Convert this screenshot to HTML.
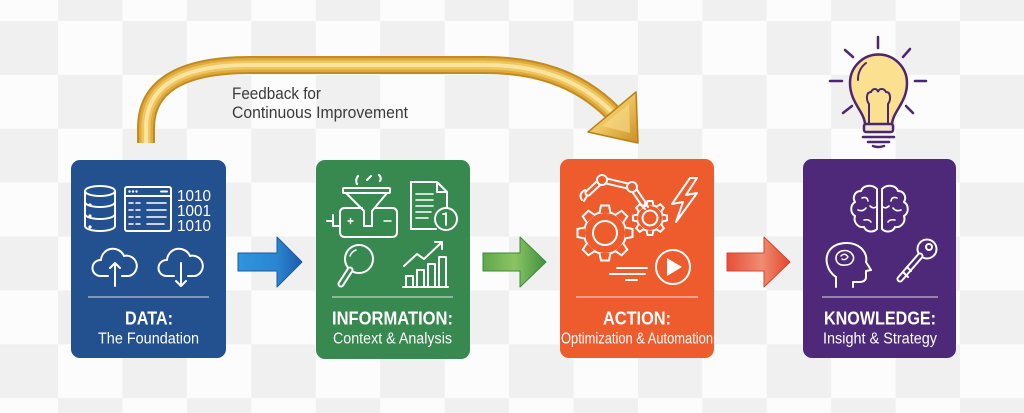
<!DOCTYPE html>
<html><head><meta charset="utf-8">
<style>
html,body{margin:0;padding:0;width:1024px;height:413px;overflow:hidden;background:#fdfdfd;}
svg{display:block;font-family:"Liberation Sans",sans-serif;}
</style></head><body>
<svg width="1024" height="413" viewBox="0 0 1024 413" xmlns="http://www.w3.org/2000/svg">
<defs>
<pattern id="chk" x="-6.4" y="-33" width="128.86" height="107.8" patternUnits="userSpaceOnUse">
<rect width="128.86" height="107.8" fill="#fcfcfc"/>
<rect x="64.43" y="0" width="64.43" height="53.9" fill="#f0f0f0"/>
<rect x="0" y="53.9" width="64.43" height="53.9" fill="#f0f0f0"/>
</pattern>
<path id="fb" d="M146 143 V128 C146 88 178 65 250 65 H485 C535 65 578 78 612 112"/>
<linearGradient id="gh" x1="0" y1="0" x2="1" y2="1">
<stop offset="0" stop-color="#fbe7a4"/><stop offset="0.5" stop-color="#edc35b"/><stop offset="1" stop-color="#c98f24"/>
</linearGradient>
<linearGradient id="ab" x1="0" y1="0" x2="1" y2="0">
<stop offset="0" stop-color="#2f95dc"/><stop offset="0.6" stop-color="#2a86d0"/><stop offset="1" stop-color="#1b5cad"/>
</linearGradient>
<linearGradient id="ag" x1="0" y1="0" x2="1" y2="0">
<stop offset="0" stop-color="#5fa84a"/><stop offset="0.5" stop-color="#8cc462"/><stop offset="1" stop-color="#3f9140"/>
</linearGradient>
<linearGradient id="ar" x1="0" y1="0" x2="1" y2="0">
<stop offset="0" stop-color="#e5503a"/><stop offset="0.55" stop-color="#f08c72"/><stop offset="1" stop-color="#e2472e"/>
</linearGradient>
<path id="tooth" d="M-5.5 -20 L-4 -27.5 L4 -27.5 L5.5 -20" fill="#ee5b2c"/>
<g id="gear">
<circle r="21" fill="none"/>
<use href="#tooth"/>
<use href="#tooth" transform="rotate(45)"/>
<use href="#tooth" transform="rotate(90)"/>
<use href="#tooth" transform="rotate(135)"/>
<use href="#tooth" transform="rotate(180)"/>
<use href="#tooth" transform="rotate(225)"/>
<use href="#tooth" transform="rotate(270)"/>
<use href="#tooth" transform="rotate(315)"/>
<circle r="12" fill="none"/>
</g>
</defs>
<rect width="1024" height="413" fill="url(#chk)"/>

<!-- feedback arrow -->
<g fill="none" stroke-linecap="butt">
<use href="#fb" stroke="#c28a1f" stroke-width="18"/>
<use href="#fb" stroke="#dfa93c" stroke-width="14"/>
<use href="#fb" stroke="#efc65f" stroke-width="9"/>
<use href="#fb" stroke="#fbe3a0" stroke-width="4"/>
</g>
<polygon points="636,92 588,132 638,143" fill="url(#gh)" stroke="#b8801c" stroke-width="1.5" stroke-linejoin="round"/>
<polygon points="629,104 602,126 630,133" fill="#f7dc90" opacity="0.6"/>
<g fill="#3a3a3a" font-size="16.5">
<text x="232" y="99" textLength="89" lengthAdjust="spacingAndGlyphs">Feedback for</text>
<text x="232" y="118" textLength="176" lengthAdjust="spacingAndGlyphs">Continuous Improvement</text>
</g>

<!-- boxes -->
<rect x="71" y="160" width="155" height="198" rx="9" fill="#23518f"/>
<rect x="316" y="160" width="154" height="199" rx="9" fill="#37894f"/>
<rect x="560" y="159" width="154" height="199" rx="9" fill="#ee5b2c"/>
<rect x="803" y="159" width="153" height="199" rx="9" fill="#4f2979"/>

<!-- separators -->
<g stroke="#ffffff" stroke-opacity="0.55" stroke-width="1.5">
<line x1="88" y1="297" x2="209" y2="297"/>
<line x1="332" y1="297" x2="453" y2="297"/>
<line x1="576" y1="297" x2="698" y2="297"/>
<line x1="822" y1="297" x2="938" y2="297"/>
</g>

<!-- labels -->
<g fill="#fff" text-anchor="middle">
<text x="149" y="324.5" font-size="18" font-weight="bold" textLength="48" lengthAdjust="spacingAndGlyphs">DATA:</text>
<text x="148.5" y="343.5" font-size="15.5" textLength="101" lengthAdjust="spacingAndGlyphs">The Foundation</text>
<text x="392.5" y="324.5" font-size="18" font-weight="bold" textLength="121" lengthAdjust="spacingAndGlyphs">INFORMATION:</text>
<text x="392.5" y="343.5" font-size="15.5" textLength="119" lengthAdjust="spacingAndGlyphs">Context &amp; Analysis</text>
<text x="637" y="324.5" font-size="18" font-weight="bold" textLength="68" lengthAdjust="spacingAndGlyphs">ACTION:</text>
<text x="637" y="343.5" font-size="15.5" textLength="152" lengthAdjust="spacingAndGlyphs">Optimization &amp; Automation</text>
<text x="880" y="324.5" font-size="18" font-weight="bold" textLength="112" lengthAdjust="spacingAndGlyphs">KNOWLEDGE:</text>
<text x="880" y="343.5" font-size="15.5" textLength="114" lengthAdjust="spacingAndGlyphs">Insight &amp; Strategy</text>
</g>

<!-- connector arrows -->
<polygon points="238,253 277,253 277,237 302,262 277,287 277,271 238,271" fill="url(#ab)" stroke="#1a5aa3" stroke-width="1" stroke-linejoin="round"/>
<polygon points="483,253 520,253 520,237 546,262 520,287 520,271 483,271" fill="url(#ag)" stroke="#3b8a3c" stroke-width="1" stroke-linejoin="round"/>
<polygon points="727,253 764,253 764,237 790,262 764,287 764,271 727,271" fill="url(#ar)" stroke="#d9432c" stroke-width="1" stroke-linejoin="round"/>

<!-- DATA icons -->
<g stroke="#fff" stroke-width="2" fill="none" stroke-linecap="round" stroke-linejoin="round">
<ellipse cx="100" cy="191" rx="15" ry="5"/>
<path d="M85 191 V226 A15 5 0 0 0 115 226 V191"/>
<path d="M85 202 A15 5 0 0 0 115 202"/>
<path d="M85 214 A15 5 0 0 0 115 214"/>
<rect x="125" y="187" width="46" height="44" rx="2"/>
<line x1="125" y1="196" x2="171" y2="196"/>
<line x1="161" y1="191.5" x2="167" y2="191.5"/>
<path d="M147 203 H166 M147 210 H166 M147 217 H166 M147 224 H164" stroke-width="1.6"/>
<path d="M129 203 H133 M136 203 H140 M129 210 H133 M136 210 H140 M129 217 H133 M136 217 H140 M129 224 H133 M136 224 H140" stroke-width="1.5"/>
<path d="M108 276 H100 A8 8 0 0 1 101 260 A12 12 0 0 1 124 256 A9 9 0 0 1 129 276 H122"/>
<path d="M115 286 V263 M110 268 L115 263 L120 268"/>
<path d="M174 276 H166 A8 8 0 0 1 167 260 A12 12 0 0 1 190 256 A9 9 0 0 1 195 276 H188"/>
<path d="M181 263 V286 M176 281 L181 286 L186 281"/>
</g>
<g fill="#fff">
<circle cx="90" cy="205" r="1.6"/><circle cx="90" cy="216" r="1.6"/><circle cx="90" cy="227" r="1.6"/>
<circle cx="129.5" cy="191.5" r="1.2"/><circle cx="133" cy="191.5" r="1.2"/><circle cx="136.5" cy="191.5" r="1.2"/>
<g font-size="16">
<text x="177" y="201" textLength="34" lengthAdjust="spacingAndGlyphs">1010</text>
<text x="177" y="216" textLength="34" lengthAdjust="spacingAndGlyphs">1001</text>
<text x="177" y="231" textLength="34" lengthAdjust="spacingAndGlyphs">1010</text>
</g>
</g>

<!-- INFO icons -->
<g stroke="#fff" stroke-width="2" fill="none" stroke-linecap="round" stroke-linejoin="round">
<rect x="343" y="188" width="47" height="5" rx="1"/>
<path d="M346 193 L364 211 V226 H372 V211 L387 193"/>
<path d="M362 208 H345 Q340 208 340 213 V232 Q340 237 345 237 H392 Q397 237 397 232 V213 Q397 208 392 208 H375"/>
<path d="M327 221 H333 M333 215 V226 H340"/>
<path d="M384 221 H391" stroke-width="1.5"/>
<path d="M348 221 L353 221 M350.5 218.5 V223.5" stroke-width="1.4"/>
<path d="M357 184 Q355 180 358 176 M367 180 L371 176 M380 181 Q382 178 379 175"/>
<path d="M436 229 H411 V182 H437 L447 192 V207 M437 182 V192 H447"/>
<path d="M416 194 H433 M416 200 H433 M416 206 H433 M416 212 H431 M416 218 H428" stroke-width="1.6"/>
<circle cx="446" cy="219" r="11" fill="#37894f"/>
<path d="M446 213 V225 M443 214 H446" stroke-width="1.8"/>
<circle cx="359" cy="259" r="14"/>
<path d="M350 256 A10 10 0 0 1 356 250" stroke-width="1.5"/>
</g>
<line x1="350" y1="270" x2="341" y2="284" stroke="#fff" stroke-width="7" stroke-linecap="round"/>
<line x1="350" y1="270" x2="341" y2="284" stroke="#37894f" stroke-width="3" stroke-linecap="round"/>
<g stroke="#fff" stroke-width="2" fill="none" stroke-linecap="round" stroke-linejoin="round">
<path d="M403 287 H448"/>
<rect x="406" y="276" width="7" height="11"/>
<rect x="417" y="270" width="7" height="17"/>
<rect x="428" y="264" width="7" height="23"/>
<rect x="439" y="257" width="7" height="30"/>
<path d="M404 266 L417 254 L424 259 L442 242"/>
<path d="M435 242 H442 V249"/>
</g>

<!-- ACTION icons -->
<use href="#gear" transform="translate(605,233)" stroke="#fff" stroke-width="2"/>
<use href="#gear" transform="translate(650,218) scale(0.62)" stroke="#fff" stroke-width="3.2"/>
<path d="M588 193 L602 180 L632 187 L643 203" stroke="#fff" stroke-width="7" fill="none" stroke-linejoin="round" stroke-linecap="round"/>
<path d="M588 193 L602 180 L632 187 L643 203" stroke="#ee5b2c" stroke-width="3" fill="none" stroke-linejoin="round" stroke-linecap="round"/>
<g stroke="#fff" stroke-width="2" fill="none" stroke-linecap="round" stroke-linejoin="round">
<circle cx="602" cy="180" r="5" fill="#ee5b2c"/>
<circle cx="632" cy="187" r="5" fill="#ee5b2c"/>
<path d="M585 190 Q578 194 582 200 M587 196 L584 201"/>
<path d="M641 205 L645 209 M645 203 L648 207"/>
<path d="M690 178 L672 204 L683 202 L676 222 L697 193 L686 195 L697 178 Z"/>
<circle cx="673" cy="267" r="17"/>
<path d="M617 268 H647 M610 274 H645 M626 280 H637"/>
</g>
<polygon points="667,258 667,276 682,267" fill="#fff"/>

<!-- KNOWLEDGE icons -->
<g stroke="#fff" stroke-width="2" fill="none" stroke-linecap="round" stroke-linejoin="round">
<path d="M877 189 C872 184 863 185 861 191 C855 191 852 197 855 202 C850 205 850 213 855 216 C853 222 858 228 864 227 C866 232 873 233 877 229 Z"/>
<path d="M882 189 C887 184 896 185 898 191 C904 191 907 197 904 202 C909 205 909 213 904 216 C906 222 901 228 895 227 C893 232 886 233 882 229 Z"/>
<path d="M862 198 Q867 196 868 201 M858 210 Q863 212 866 208 M864 220 Q869 219 871 222 M870 206 Q873 209 876 207" stroke-width="1.6"/>
<path d="M897 198 Q892 196 891 201 M901 210 Q896 212 893 208 M895 220 Q890 219 888 222 M889 206 Q886 209 883 207" stroke-width="1.6"/>
<path d="M836 287 V277 C827 271 824 259 829 251 C835 242 852 240 861 248 C866 253 867 258 866 262 L871 270 L866 271 V277 C866 281 863 282 859 282 H853 V287"/>
<path d="M836 258 C836 250 848 248 852 254 C856 258 852 265 846 265 C840 266 836 263 836 258 Z" stroke-width="1.6"/>
<path d="M841 256 Q845 252 848 257 Q845 261 842 259" stroke-width="1.4"/>
<circle cx="927" cy="249" r="9.5"/>
<circle cx="929" cy="247" r="3"/>
</g>
<line x1="920" y1="256" x2="900" y2="279" stroke="#fff" stroke-width="7" stroke-linecap="round"/>
<line x1="920" y1="256" x2="900" y2="279" stroke="#4f2979" stroke-width="3" stroke-linecap="round"/>
<g stroke="#fff" stroke-width="2" fill="none" stroke-linecap="round">
<path d="M903 272 L908 277 M907 267 L911 271"/>
</g>

<!-- light bulb -->
<g stroke="#4b2673" stroke-width="2.5" stroke-linecap="round" fill="none">
<line x1="878" y1="37" x2="878" y2="48"/>
<line x1="845" y1="50" x2="853" y2="57"/>
<line x1="910" y1="49" x2="903" y2="57"/>
<line x1="830" y1="81" x2="842" y2="81"/>
<line x1="915" y1="81" x2="926" y2="81"/>
<line x1="843" y1="113" x2="852" y2="106"/>
<line x1="913" y1="113" x2="906" y2="106"/>
<path d="M865 125 C865 112 850 103 850 83 A28.5 28.5 0 0 1 907 83 C907 103 892 112 892 125 Z" fill="#fbe08f"/>
<rect x="864" y="124" width="29" height="8" rx="2" fill="#f1e6c8"/>
<path d="M863 137 H894 M868 142 H889 M873 146 Q878 148 884 146"/>
<path d="M869 124 V104 C866 100 866 92 871 92 C873 88 877 88 878 92 C879 88 884 88 886 92 C891 92 891 100 888 104 V124" stroke-width="2"/>
<path d="M858 80 A20 20 0 0 1 866 63" stroke-width="2"/>
</g>
</svg>
</body></html>
